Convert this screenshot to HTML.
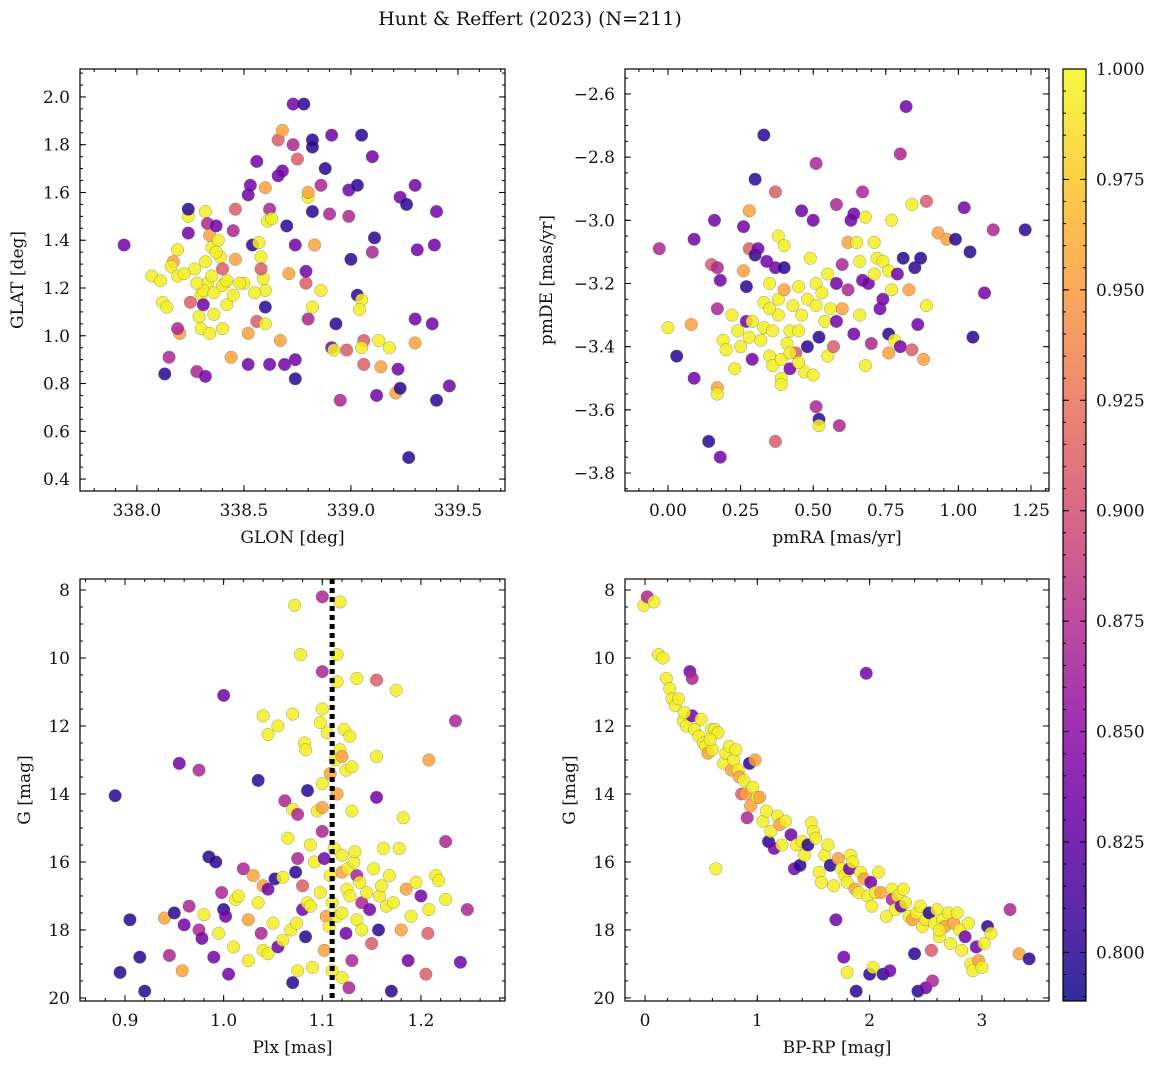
<!DOCTYPE html>
<html><head><meta charset="utf-8"><style>
body{margin:0;background:#fff}
svg text{font-family:"DejaVu Serif","Liberation Serif",serif;fill:#111}
</style></head><body>
<svg id="fig" width="1160" height="1068" xmlns="http://www.w3.org/2000/svg">
<defs>
<linearGradient id="plasma" x1="0" y1="1" x2="0" y2="0">
<stop offset="0" stop-color="#0d0887"/><stop offset="0.1" stop-color="#41049d"/><stop offset="0.2" stop-color="#6a00a8"/><stop offset="0.3" stop-color="#8f0da4"/><stop offset="0.4" stop-color="#b12a90"/><stop offset="0.5" stop-color="#cc4778"/><stop offset="0.6" stop-color="#e16462"/><stop offset="0.7" stop-color="#f2844b"/><stop offset="0.8" stop-color="#fca636"/><stop offset="0.9" stop-color="#fcce25"/><stop offset="1" stop-color="#f0f921"/>
</linearGradient>
</defs>
<text x="530" y="25" font-size="19" text-anchor="middle">Hunt &amp; Reffert (2023) (N=211)</text>
</svg>
<script>
const CV={y:0.995,o:0.955,p:0.91,m:0.87,v:0.835,b:0.80};
const p1=[[337.94,1.38,'v'],[338.13,0.84,'b'],[338.15,0.91,'m'],[338.07,1.25,'y'],[338.11,1.23,'y'],[338.12,1.14,'y'],[338.14,1.12,'y'],[338.17,1.31,'o'],[338.19,1.36,'y'],[338.16,1.29,'y'],[338.2,1.01,'o'],[338.19,1.03,'m'],[338.19,1.25,'y'],[338.24,1.5,'y'],[338.24,1.53,'b'],[338.24,1.43,'v'],[338.25,1.14,'p'],[338.27,1.28,'y'],[338.29,1.08,'y'],[338.3,1.03,'y'],[338.3,1.17,'y'],[338.28,0.85,'m'],[338.32,0.83,'v'],[338.32,1.52,'y'],[338.33,1.47,'m'],[338.34,1.42,'o'],[338.35,1.37,'y'],[338.32,1.31,'y'],[338.33,1.22,'y'],[338.31,1.19,'y'],[338.31,1.13,'v'],[338.34,1.01,'y'],[338.35,1.25,'y'],[338.36,1.18,'y'],[338.38,1.4,'y'],[338.39,1.33,'y'],[338.4,1.28,'p'],[338.41,1.22,'y'],[338.4,1.21,'y'],[338.42,1.13,'y'],[338.4,1.03,'y'],[338.37,1.46,'v'],[338.45,1.44,'m'],[338.46,1.53,'p'],[338.44,0.91,'o'],[338.46,1.32,'o'],[338.5,1.22,'y'],[338.45,1.17,'y'],[338.52,1.01,'o'],[338.52,0.88,'v'],[338.52,1.59,'v'],[338.53,1.63,'v'],[338.56,1.73,'v'],[338.54,1.38,'b'],[338.58,1.33,'y'],[338.56,1.06,'p'],[338.6,1.62,'o'],[338.6,1.12,'b'],[338.6,1.05,'y'],[338.61,1.48,'y'],[338.57,1.39,'y'],[338.59,1.24,'y'],[338.6,1.19,'y'],[338.62,0.88,'v'],[338.62,1.53,'m'],[338.66,1.67,'v'],[338.66,1.82,'p'],[338.68,1.86,'o'],[338.68,1.69,'v'],[338.7,1.46,'b'],[338.71,1.26,'o'],[338.69,0.88,'v'],[338.73,1.97,'v'],[338.73,1.8,'m'],[338.74,1.38,'v'],[338.74,0.82,'b'],[338.74,0.9,'v'],[338.67,0.98,'o'],[338.75,1.74,'p'],[338.78,1.97,'b'],[338.8,1.58,'y'],[338.8,1.6,'o'],[338.82,1.82,'b'],[338.82,1.79,'b'],[338.83,1.38,'o'],[338.8,1.07,'m'],[338.79,1.22,'p'],[338.82,1.52,'b'],[338.82,1.12,'y'],[338.86,1.19,'y'],[338.88,1.7,'b'],[338.86,1.63,'m'],[338.91,1.84,'v'],[338.91,0.95,'v'],[338.93,1.05,'b'],[338.95,0.73,'m'],[338.92,0.94,'y'],[338.99,1.61,'v'],[339.0,1.32,'b'],[339.03,1.63,'b'],[339.03,1.17,'b'],[339.05,1.84,'b'],[339.05,1.15,'y'],[339.04,1.11,'y'],[339.06,0.98,'p'],[339.05,0.95,'y'],[339.06,0.88,'p'],[339.1,1.75,'v'],[339.11,1.41,'b'],[339.12,0.75,'v'],[339.14,0.87,'o'],[339.13,0.98,'y'],[339.18,0.95,'y'],[339.1,1.35,'m'],[339.21,0.76,'o'],[339.22,0.86,'v'],[339.23,0.78,'b'],[339.23,1.58,'v'],[339.26,1.55,'b'],[339.27,0.49,'b'],[339.3,1.63,'v'],[339.31,1.36,'v'],[339.3,1.07,'v'],[339.3,0.97,'o'],[339.4,1.52,'v'],[339.38,1.05,'v'],[339.4,0.73,'b'],[339.39,1.38,'v'],[339.46,0.79,'v'],[338.99,1.5,'m'],[338.9,1.51,'m'],[338.98,0.94,'p'],[338.79,1.27,'v'],[338.42,1.23,'y'],[338.36,1.09,'y'],[338.48,1.22,'y'],[338.55,1.18,'y'],[338.28,1.22,'y'],[338.22,1.26,'y'],[338.37,1.35,'y'],[338.63,1.49,'y'],[338.58,1.28,'p']];
const p2=[[-0.03,-3.09,'m'],[0.03,-3.43,'b'],[0.0,-3.34,'y'],[0.08,-3.33,'o'],[0.09,-3.06,'v'],[0.09,-3.5,'v'],[0.14,-3.7,'b'],[0.15,-3.14,'p'],[0.16,-3.0,'v'],[0.17,-3.15,'m'],[0.17,-3.28,'m'],[0.17,-3.53,'o'],[0.17,-3.55,'y'],[0.18,-3.75,'v'],[0.18,-3.19,'v'],[0.19,-3.38,'y'],[0.2,-3.41,'y'],[0.22,-3.3,'y'],[0.23,-3.47,'y'],[0.24,-3.35,'y'],[0.25,-3.4,'y'],[0.26,-3.02,'v'],[0.26,-3.16,'o'],[0.27,-3.21,'b'],[0.27,-3.32,'v'],[0.28,-2.97,'o'],[0.28,-3.09,'p'],[0.29,-3.44,'v'],[0.29,-3.32,'y'],[0.3,-2.87,'b'],[0.3,-3.11,'b'],[0.31,-3.09,'v'],[0.32,-3.38,'y'],[0.33,-3.26,'y'],[0.33,-3.34,'y'],[0.33,-2.73,'b'],[0.34,-3.13,'v'],[0.35,-3.43,'y'],[0.35,-3.2,'y'],[0.36,-3.46,'y'],[0.36,-3.35,'y'],[0.37,-3.7,'p'],[0.37,-2.91,'p'],[0.37,-3.15,'v'],[0.38,-3.05,'y'],[0.38,-3.25,'y'],[0.38,-3.3,'y'],[0.39,-3.44,'y'],[0.39,-3.5,'y'],[0.4,-3.08,'y'],[0.4,-3.15,'b'],[0.4,-3.22,'o'],[0.41,-3.39,'y'],[0.42,-3.35,'y'],[0.42,-3.47,'v'],[0.43,-3.27,'y'],[0.44,-3.42,'p'],[0.45,-3.35,'y'],[0.45,-3.21,'y'],[0.46,-2.97,'v'],[0.46,-3.3,'y'],[0.47,-3.48,'y'],[0.48,-3.25,'y'],[0.48,-3.4,'b'],[0.49,-3.12,'y'],[0.5,-3.0,'v'],[0.5,-3.49,'y'],[0.51,-3.2,'y'],[0.51,-3.27,'y'],[0.51,-2.82,'m'],[0.51,-3.59,'m'],[0.52,-3.63,'b'],[0.52,-3.65,'y'],[0.52,-3.37,'b'],[0.53,-3.23,'y'],[0.54,-3.32,'y'],[0.55,-3.43,'y'],[0.55,-3.17,'y'],[0.56,-3.28,'y'],[0.57,-3.4,'p'],[0.58,-3.2,'v'],[0.58,-3.32,'v'],[0.58,-2.95,'m'],[0.59,-3.65,'m'],[0.6,-3.28,'o'],[0.6,-3.14,'m'],[0.62,-3.07,'o'],[0.62,-3.22,'m'],[0.63,-3.0,'v'],[0.64,-2.98,'v'],[0.64,-3.36,'v'],[0.65,-3.07,'y'],[0.66,-3.3,'y'],[0.66,-3.13,'y'],[0.67,-3.19,'v'],[0.67,-2.91,'m'],[0.68,-3.46,'y'],[0.68,-2.99,'y'],[0.69,-3.2,'v'],[0.7,-3.39,'m'],[0.71,-3.17,'y'],[0.71,-3.07,'y'],[0.72,-3.12,'y'],[0.73,-3.28,'v'],[0.74,-3.25,'v'],[0.74,-3.13,'y'],[0.76,-3.16,'y'],[0.76,-3.42,'o'],[0.76,-3.36,'b'],[0.77,-3.0,'y'],[0.77,-3.22,'y'],[0.78,-3.38,'y'],[0.79,-3.17,'v'],[0.8,-2.79,'m'],[0.8,-3.4,'v'],[0.81,-3.12,'b'],[0.82,-2.64,'v'],[0.83,-3.22,'o'],[0.84,-2.95,'y'],[0.84,-3.41,'p'],[0.85,-3.15,'b'],[0.86,-3.33,'v'],[0.87,-3.12,'b'],[0.88,-3.44,'o'],[0.89,-2.94,'p'],[0.89,-3.27,'y'],[0.93,-3.04,'o'],[0.96,-3.06,'o'],[0.99,-3.06,'b'],[1.02,-2.96,'v'],[1.04,-3.1,'b'],[1.05,-3.37,'b'],[1.09,-3.23,'v'],[1.12,-3.03,'m'],[1.23,-3.03,'b'],[0.45,-3.45,'y'],[0.35,-3.28,'y'],[0.28,-3.37,'y'],[0.42,-3.42,'y'],[0.39,-3.52,'y']];
const p3=[[0.89,14.05,'b'],[0.895,19.25,'b'],[0.905,17.7,'b'],[0.915,18.8,'b'],[0.92,19.8,'b'],[0.94,17.65,'o'],[0.945,18.75,'m'],[0.95,17.5,'b'],[0.955,13.1,'v'],[0.958,19.2,'o'],[0.96,17.85,'v'],[0.965,17.3,'m'],[0.975,13.3,'m'],[0.975,18.0,'m'],[0.978,18.25,'v'],[0.98,17.55,'y'],[0.985,15.85,'b'],[0.99,18.8,'v'],[0.992,16.0,'b'],[0.995,18.1,'y'],[0.998,16.9,'m'],[1.0,11.1,'v'],[1.0,17.4,'b'],[1.002,17.6,'v'],[1.005,19.3,'v'],[1.01,18.5,'y'],[1.012,17.1,'y'],[1.015,17.0,'y'],[1.02,16.2,'m'],[1.025,18.9,'y'],[1.025,17.7,'o'],[1.03,16.4,'o'],[1.035,13.6,'b'],[1.035,17.2,'y'],[1.038,18.1,'m'],[1.04,16.7,'o'],[1.04,18.6,'y'],[1.045,18.7,'y'],[1.045,16.8,'v'],[1.04,11.7,'y'],[1.045,12.25,'y'],[1.05,17.8,'y'],[1.052,16.5,'b'],[1.055,12.0,'y'],[1.055,18.5,'v'],[1.06,18.3,'y'],[1.06,16.45,'y'],[1.062,14.2,'m'],[1.065,15.3,'y'],[1.068,18.0,'y'],[1.07,19.55,'b'],[1.07,11.65,'y'],[1.07,14.45,'y'],[1.072,8.45,'y'],[1.073,16.3,'b'],[1.074,17.8,'y'],[1.075,15.9,'m'],[1.075,19.2,'y'],[1.075,14.6,'m'],[1.078,9.9,'y'],[1.08,16.7,'p'],[1.08,17.4,'v'],[1.082,12.5,'y'],[1.083,12.7,'y'],[1.083,18.2,'b'],[1.085,13.9,'b'],[1.085,17.2,'y'],[1.088,15.5,'y'],[1.088,17.3,'y'],[1.09,19.1,'y'],[1.092,16.0,'y'],[1.095,14.5,'y'],[1.098,16.9,'y'],[1.098,11.9,'y'],[1.1,8.2,'m'],[1.1,10.4,'m'],[1.1,11.5,'y'],[1.1,13.7,'y'],[1.1,14.4,'o'],[1.1,15.1,'m'],[1.102,15.9,'v'],[1.102,18.6,'o'],[1.104,17.6,'o'],[1.105,12.2,'y'],[1.107,17.9,'y'],[1.108,16.4,'y'],[1.108,13.4,'o'],[1.11,17.2,'y'],[1.11,19.2,'y'],[1.112,15.6,'y'],[1.113,13.0,'y'],[1.115,9.9,'y'],[1.115,10.7,'y'],[1.115,14.0,'o'],[1.115,17.6,'y'],[1.118,8.35,'y'],[1.118,12.7,'y'],[1.12,15.8,'y'],[1.12,12.9,'o'],[1.12,16.3,'o'],[1.12,17.5,'y'],[1.12,19.4,'y'],[1.122,12.1,'y'],[1.124,13.3,'y'],[1.124,18.1,'v'],[1.125,16.8,'y'],[1.126,16.2,'y'],[1.127,19.7,'m'],[1.128,12.3,'y'],[1.128,17.0,'y'],[1.13,14.5,'y'],[1.13,18.9,'m'],[1.13,13.2,'y'],[1.132,16.0,'y'],[1.133,15.7,'y'],[1.135,17.7,'y'],[1.135,16.4,'m'],[1.135,10.6,'y'],[1.138,16.6,'y'],[1.14,17.2,'m'],[1.14,18.0,'y'],[1.145,16.9,'y'],[1.148,17.4,'v'],[1.15,18.4,'p'],[1.152,16.2,'y'],[1.155,12.9,'y'],[1.155,10.65,'p'],[1.155,14.1,'v'],[1.157,18.0,'b'],[1.158,17.0,'y'],[1.16,16.7,'y'],[1.162,15.6,'y'],[1.165,17.3,'y'],[1.168,16.4,'y'],[1.17,19.8,'b'],[1.172,17.2,'y'],[1.175,10.95,'y'],[1.178,15.6,'y'],[1.18,18.0,'o'],[1.182,14.7,'y'],[1.185,16.8,'o'],[1.187,18.9,'v'],[1.19,17.6,'y'],[1.195,16.6,'y'],[1.2,17.0,'v'],[1.205,19.3,'p'],[1.207,18.1,'p'],[1.208,13.0,'o'],[1.208,17.4,'y'],[1.215,16.4,'y'],[1.218,16.55,'y'],[1.225,15.4,'m'],[1.225,17.1,'y'],[1.235,11.85,'m'],[1.24,18.95,'v'],[1.247,17.4,'m']];
const p4=[[-0.01,8.45,'y'],[0.02,8.2,'m'],[0.08,8.35,'y'],[0.12,9.9,'y'],[0.16,10.0,'y'],[0.19,10.6,'y'],[0.22,10.9,'y'],[0.24,11.2,'y'],[0.27,11.4,'y'],[0.3,11.2,'y'],[0.34,11.85,'y'],[0.37,12.0,'y'],[0.4,10.4,'v'],[0.42,10.6,'m'],[0.42,11.7,'v'],[0.44,12.1,'y'],[0.48,12.3,'y'],[0.5,11.8,'y'],[0.52,12.5,'y'],[0.54,12.6,'y'],[0.56,12.8,'o'],[0.59,12.1,'y'],[0.6,12.7,'y'],[0.62,12.1,'y'],[0.63,16.2,'y'],[0.65,12.2,'y'],[0.7,13.1,'y'],[0.72,12.8,'y'],[0.75,12.6,'y'],[0.77,13.3,'o'],[0.79,13.0,'y'],[0.81,12.7,'y'],[0.83,13.3,'y'],[0.84,13.5,'o'],[0.86,14.0,'p'],[0.88,13.6,'y'],[0.9,14.0,'o'],[0.91,14.7,'m'],[0.93,13.1,'b'],[0.94,14.35,'o'],[0.96,13.8,'y'],[0.98,13.0,'o'],[1.0,14.1,'y'],[1.02,14.1,'o'],[1.05,14.8,'y'],[1.08,14.5,'y'],[1.1,15.4,'b'],[1.12,15.1,'y'],[1.15,15.6,'v'],[1.18,14.65,'y'],[1.2,14.9,'o'],[1.22,15.5,'y'],[1.25,14.8,'y'],[1.3,15.2,'v'],[1.33,16.2,'v'],[1.35,15.5,'y'],[1.38,16.1,'b'],[1.4,15.4,'y'],[1.42,15.8,'y'],[1.45,15.5,'b'],[1.48,14.85,'y'],[1.5,15.1,'y'],[1.52,15.3,'y'],[1.55,16.3,'y'],[1.57,16.6,'y'],[1.6,15.8,'y'],[1.63,15.5,'y'],[1.65,16.1,'b'],[1.68,16.7,'y'],[1.7,17.7,'v'],[1.72,15.9,'o'],[1.75,16.2,'y'],[1.77,18.8,'v'],[1.78,16.4,'y'],[1.8,16.6,'y'],[1.82,16.2,'v'],[1.83,15.8,'y'],[1.85,16.0,'y'],[1.87,16.8,'o'],[1.88,19.8,'b'],[1.9,16.9,'y'],[1.92,16.3,'y'],[1.95,16.5,'o'],[1.97,10.45,'v'],[1.98,17.0,'y'],[2.0,19.3,'b'],[2.01,16.6,'v'],[2.03,19.1,'y'],[2.05,16.9,'y'],[2.08,16.3,'y'],[2.1,16.9,'o'],[2.12,19.3,'b'],[2.15,17.6,'y'],[2.18,19.2,'v'],[2.2,16.8,'y'],[2.2,17.1,'m'],[2.23,17.4,'y'],[2.25,17.0,'y'],[2.28,17.3,'v'],[2.3,16.8,'y'],[2.32,17.2,'y'],[2.35,17.6,'y'],[2.38,17.7,'o'],[2.4,18.7,'b'],[2.42,17.5,'y'],[2.43,19.8,'b'],[2.45,17.3,'y'],[2.47,17.9,'y'],[2.5,17.7,'y'],[2.5,19.7,'v'],[2.53,17.5,'b'],[2.55,18.6,'p'],[2.56,19.5,'m'],[2.58,17.8,'y'],[2.6,17.4,'y'],[2.62,18.2,'y'],[2.65,17.7,'y'],[2.67,17.9,'o'],[2.7,17.5,'y'],[2.72,18.4,'y'],[2.75,17.8,'o'],[2.78,17.5,'y'],[2.8,18.0,'y'],[2.82,18.6,'y'],[2.85,18.2,'v'],[2.88,17.8,'y'],[2.9,19.0,'y'],[2.92,19.2,'y'],[2.95,18.5,'v'],[2.97,18.9,'o'],[3.0,19.1,'y'],[3.02,18.4,'y'],[3.05,17.9,'b'],[3.08,18.1,'y'],[3.25,17.4,'m'],[3.33,18.7,'o'],[3.42,18.85,'b'],[1.8,19.25,'y'],[0.35,11.6,'y'],[0.58,12.4,'y'],[2.02,17.3,'y'],[2.62,18.0,'y']];
const cbTicks=[0.800,0.825,0.850,0.875,0.900,0.925,0.950,0.975,1.000];
const plx=1.11;

const NS='http://www.w3.org/2000/svg';
const svg=document.getElementById('fig');
function el(t,a,p){const e=document.createElementNS(NS,t);for(const k in a)e.setAttribute(k,a[k]);(p||svg).appendChild(e);return e;}
const stops=[[13,8,135],[65,4,157],[106,0,168],[143,13,164],[177,42,144],[204,71,120],[225,100,98],[242,132,75],[252,166,54],[252,206,37],[240,249,33]];
const VMIN=0.789,VMAX=1.0;
function cmap(v){let t=(v-VMIN)/(VMAX-VMIN);t=Math.max(0,Math.min(1,t))*10;const i=Math.min(9,Math.floor(t)),f=t-i;const a=stops[i],b=stops[i+1];return `rgb(${a.map((c,k)=>Math.round(c+(b[k]-c)*f)).join(',')})`;}
function fmt(v,d){return (v<0?'\u2212':'')+Math.abs(v).toFixed(d);}
function panel(o){
  const g=el('g',{});
  
  
  const W=o.R-o.L,H=o.B-o.T;
  const sx=v=>o.L+(v-o.xmin)/(o.xmax-o.xmin)*W;
  const sy=v=>o.T+(v-o.ytop)/(o.ybot-o.ytop)*H;
  const clip=el('clipPath',{id:'c'+o.name},g);el('rect',{x:o.L,y:o.T,width:W,height:H},clip);
  const pts=el('g',{'clip-path':`url(#c${o.name})`},g);
  
  
  o.data.forEach(d=>{const c=el('circle',{cx:sx(d[0]),cy:sy(d[1]),r:6.3,fill:cmap(CV[d[2]]),'fill-opacity':0.85,stroke:'#666','stroke-width':0.5,'stroke-opacity':0.6},pts);
    
    });
  if(o.vline!==undefined){const l=el('line',{x1:sx(o.vline),x2:sx(o.vline),y1:o.T,y2:o.B,stroke:'#000','stroke-width':5,'stroke-dasharray':'5,4'},g);
    
    }
  el('rect',{x:o.L,y:o.T,width:W,height:H,fill:'none',stroke:'#000','stroke-width':1.2},g);
  const tk=el('g',{stroke:'#000','stroke-width':1},g);
  for(let v=Math.ceil(o.xmin/o.xmn-1e-6)*o.xmn;v<=o.xmax+1e-9;v+=o.xmn){const x=sx(v);el('line',{x1:x,x2:x,y1:o.B,y2:o.B-3},tk);el('line',{x1:x,x2:x,y1:o.T,y2:o.T+3},tk);}
  const ya=Math.min(o.ytop,o.ybot),yb=Math.max(o.ytop,o.ybot);
  for(let v=Math.ceil(ya/o.ymn-1e-6)*o.ymn;v<=yb+1e-9;v+=o.ymn){const y=sy(v);el('line',{x1:o.L,x2:o.L+3,y1:y,y2:y},tk);el('line',{x1:o.R,x2:o.R-3,y1:y,y2:y},tk);}
  o.xt.forEach(v=>{const x=sx(v);el('line',{x1:x,x2:x,y1:o.B,y2:o.B-6},tk);el('line',{x1:x,x2:x,y1:o.T,y2:o.T+6},tk);
    const t=el('text',{x:x,y:o.B+25,'font-size':17,'text-anchor':'middle'},g);t.textContent=fmt(v,o.xd);
    
    });
  o.yt.forEach(v=>{const y=sy(v);el('line',{x1:o.L,x2:o.L+6,y1:y,y2:y},tk);el('line',{x1:o.R,x2:o.R-6,y1:y,y2:y},tk);
    const t=el('text',{x:o.L-10,y:y+6,'font-size':17,'text-anchor':'end'},g);t.textContent=fmt(v,o.yd);
    
    });
  const xl=el('text',{x:(o.L+o.R)/2,y:o.B+52,'font-size':17,'text-anchor':'middle'},g);xl.textContent=o.xlab;
  
  
  const yx=o.ylx,ycy=(o.T+o.B)/2;
  const yl=el('text',{x:yx,y:ycy,'font-size':17,'text-anchor':'middle',transform:`rotate(-90 ${yx} ${ycy})`},g);yl.textContent=o.ylab;
  
  
}
panel({name:'glon-glat-panel',L:80,R:505,T:69,B:491,xmin:337.734,xmax:339.72,ytop:2.117,ybot:0.35,xt:[338,338.5,339,339.5],yt:[0.4,0.6,0.8,1.0,1.2,1.4,1.6,1.8,2.0],xd:1,yd:1,xmn:0.1,ymn:0.05,xlab:'GLON [deg]',ylab:'GLAT [deg]',ylx:23,data:p1});
panel({name:'proper-motion-panel',L:625,R:1049,T:69,B:491,xmin:-0.148,xmax:1.312,ytop:-2.521,ybot:-3.857,xt:[0,0.25,0.5,0.75,1.0,1.25],yt:[-3.8,-3.6,-3.4,-3.2,-3.0,-2.8,-2.6],xd:2,yd:1,xmn:0.05,ymn:0.05,xlab:'pmRA [mas/yr]',ylab:'pmDE [mas/yr]',ylx:552,data:p2});
panel({name:'parallax-mag-panel',L:80,R:505,T:579,B:1001,xmin:0.8544,xmax:1.2852,ytop:7.676,ybot:20.09,xt:[0.9,1.0,1.1,1.2],yt:[8,10,12,14,16,18,20],xd:1,yd:0,xmn:0.02,ymn:0.5,xlab:'Plx [mas]',ylab:'G [mag]',ylx:30,data:p3,vline:plx});
panel({name:'cmd-panel',L:625,R:1049,T:579,B:1001,xmin:-0.178,xmax:3.597,ytop:7.676,ybot:20.09,xt:[0,1,2,3],yt:[8,10,12,14,16,18,20],xd:0,yd:0,xmn:0.2,ymn:0.5,xlab:'BP-RP [mag]',ylab:'G [mag]',ylx:575,data:p4});
const cb=el('g',{});


const cT=69,cB=1001,cL=1063,cR=1086;
const cy=v=>cB-(v-VMIN)/(VMAX-VMIN)*(cB-cT);
el('rect',{x:cL,y:cT,width:cR-cL,height:cB-cT,fill:'url(#plasma)','fill-opacity':0.85,stroke:'#000','stroke-width':1.2},cb);
for(let v=0.790;v<=1.0001;v+=0.005){const y=cy(v);el('line',{x1:cR,x2:cR-3,y1:y,y2:y,stroke:'#000'},cb);el('line',{x1:cL,x2:cL+3,y1:y,y2:y,stroke:'#000'},cb);}
cbTicks.forEach(v=>{const y=cy(v);el('line',{x1:cR,x2:cR-6,y1:y,y2:y,stroke:'#000'},cb);el('line',{x1:cL,x2:cL+6,y1:y,y2:y,stroke:'#000'},cb);
  const t=el('text',{x:cR+10,y:y+6,'font-size':17},cb);t.textContent=v.toFixed(3);
  
  });
</script>
</body></html>
